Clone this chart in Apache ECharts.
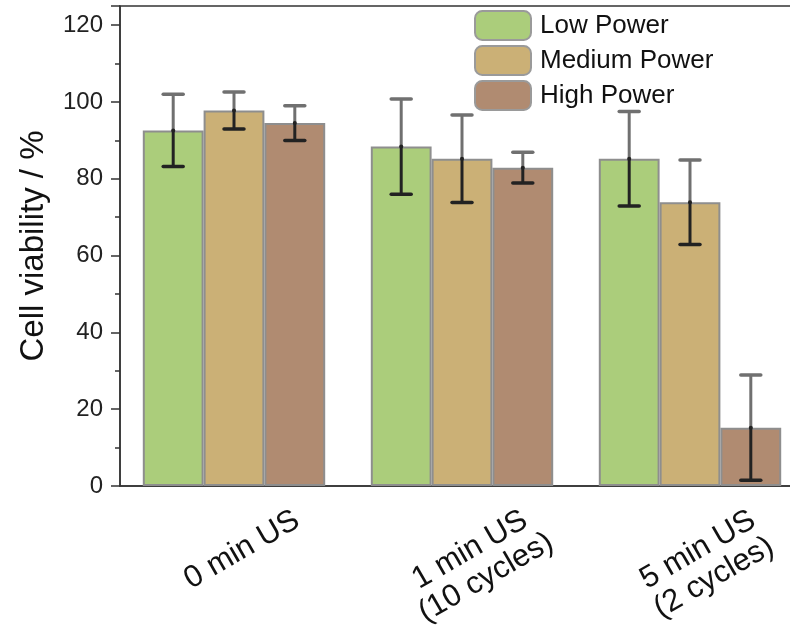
<!DOCTYPE html>
<html>
<head>
<meta charset="utf-8">
<script src="https://cdn.jsdelivr.net/npm/echarts@6/dist/echarts.min.js"></script>
<style>
  html, body { margin: 0; padding: 0; background: #fff; }
  #chart { width: 790px; height: 626px; }
</style>
</head>
<body>
<div id="chart"></div>
<script>
// Treatment groups (x axis)
const categories = ['0 min US', '1 min US\n(10 cycles)', '5 min US\n(2 cycles)'];

// Mean cell viability (%) per ultrasound power level
const lowPower = [92.6, 88.4, 85.2];
const mediumPower = [97.8, 85.2, 73.9];
const highPower = [94.5, 82.9, 15.2];

// Standard deviations (symmetric error bars)
const lowErr = [9.4, 12.4, 12.3];
const mediumErr = [4.8, 11.4, 11.0];
const highErr = [4.5, 4.0, 13.7];

const seriesNames = ['Low Power', 'Medium Power', 'High Power'];
const seriesColors = ['#abcd7b', '#cbb076', '#b08b71'];

const yTicks = [0, 20, 40, 60, 80, 100, 120];

const FONT = '"Liberation Sans", Arial, sans-serif';
const CAT_GAP = 0.2;

function errorSeries(values, errs, slot) {
  return {
    type: 'custom',
    name: seriesNames[slot] + ' error',
    z: 5,
    silent: true,
    data: values.map((v, i) => [i, v, v - errs[i], v + errs[i]]),
    renderItem: function (params, api) {
      const idx = api.value(0);
      const catW = api.size([1, 0])[0];
      const barW = catW * (1 - CAT_GAP) / 3;
      const center = api.coord([idx, api.value(1)]);
      const x = center[0] + (slot - 1) * barW;
      const yVal = center[1];
      const yLo = api.coord([idx, api.value(2)])[1];
      const yHi = api.coord([idx, api.value(3)])[1];
      const cap = 10;
      const light = '#707070';
      const dark = '#222222';
      return {
        type: 'group',
        children: [
          { type: 'line', shape: { x1: x, y1: yHi, x2: x, y2: yVal }, style: { stroke: light, lineWidth: 3 } },
          { type: 'line', shape: { x1: x, y1: yVal, x2: x, y2: yLo }, style: { stroke: dark, lineWidth: 3 } },
          { type: 'line', shape: { x1: x - cap, y1: yHi, x2: x + cap, y2: yHi }, style: { stroke: light, lineWidth: 3.5, lineCap: 'round' } },
          { type: 'line', shape: { x1: x - cap, y1: yLo, x2: x + cap, y2: yLo }, style: { stroke: dark, lineWidth: 3.5, lineCap: 'round' } },
          { type: 'circle', shape: { cx: x, cy: yVal, r: 2 }, style: { fill: dark } }
        ]
      };
    }
  };
}

function barSeries(values, slot) {
  return {
    type: 'bar',
    name: seriesNames[slot],
    data: values,
    barGap: '0%',
    barCategoryGap: (CAT_GAP * 100) + '%',
    itemStyle: {
      color: seriesColors[slot],
      borderColor: '#8e8e8e',
      borderWidth: 2
    }
  };
}

const chart = echarts.init(document.getElementById('chart'), null, { renderer: 'canvas' });

chart.setOption({
  animation: false,
  backgroundColor: '#fff',
  textStyle: { fontFamily: FONT },
  grid: {
    left: 120, right: -14, top: 6, bottom: 140,
    outerBoundsMode: 'none',
    containLabel: false,
    show: true, borderColor: '#333', borderWidth: 1.5, backgroundColor: 'transparent'
  },
  legend: {
    left: 469, top: 5,
    orient: 'vertical',
    itemWidth: 56, itemHeight: 29, itemGap: 4,
    data: seriesNames,
    textStyle: { fontFamily: FONT, fontSize: 26, lineHeight: 29, color: '#111', padding: [0, 0, 0, 4] },
    itemStyle: { borderColor: '#9a9a9a', borderWidth: 2 }
  },
  xAxis: {
    type: 'category',
    data: categories,
    axisLine: { lineStyle: { color: '#333', width: 1.5 } },
    axisTick: { alignWithLabel: true, length: 9, lineStyle: { color: '#333', width: 1.5 } },
    axisLabel: {
      interval: 0,
      rotate: 30,
      align: 'center',
      verticalAlign: 'top',
      margin: 50,
      fontSize: 31,
      lineHeight: 32,
      color: '#111',
      fontFamily: FONT
    },
    splitLine: { show: false }
  },
  yAxis: {
    type: 'value',
    min: 0, max: 125, interval: 20,
    name: 'Cell viability / %',
    nameLocation: 'middle',
    nameRotate: 90,
    nameGap: 70,
    nameTextStyle: { fontFamily: FONT, fontSize: 33, color: '#111' },
    axisLine: { show: true, lineStyle: { color: '#333', width: 1.5 } },
    axisTick: { show: true, length: 9, lineStyle: { color: '#333', width: 1.5 } },
    minorTick: { show: true, splitNumber: 2, length: 5, lineStyle: { color: '#333', width: 1.5 } },
    axisLabel: {
      fontSize: 24, color: '#222', margin: 17, fontFamily: FONT,
      showMaxLabel: false,
      formatter: function (v) { return yTicks.indexOf(v) >= 0 ? String(v) : ''; }
    },
    splitLine: { show: false }
  },
  series: [
    barSeries(lowPower, 0),
    barSeries(mediumPower, 1),
    barSeries(highPower, 2),
    errorSeries(lowPower, lowErr, 0),
    errorSeries(mediumPower, mediumErr, 1),
    errorSeries(highPower, highErr, 2)
  ]
});
</script>
</body>
</html>
